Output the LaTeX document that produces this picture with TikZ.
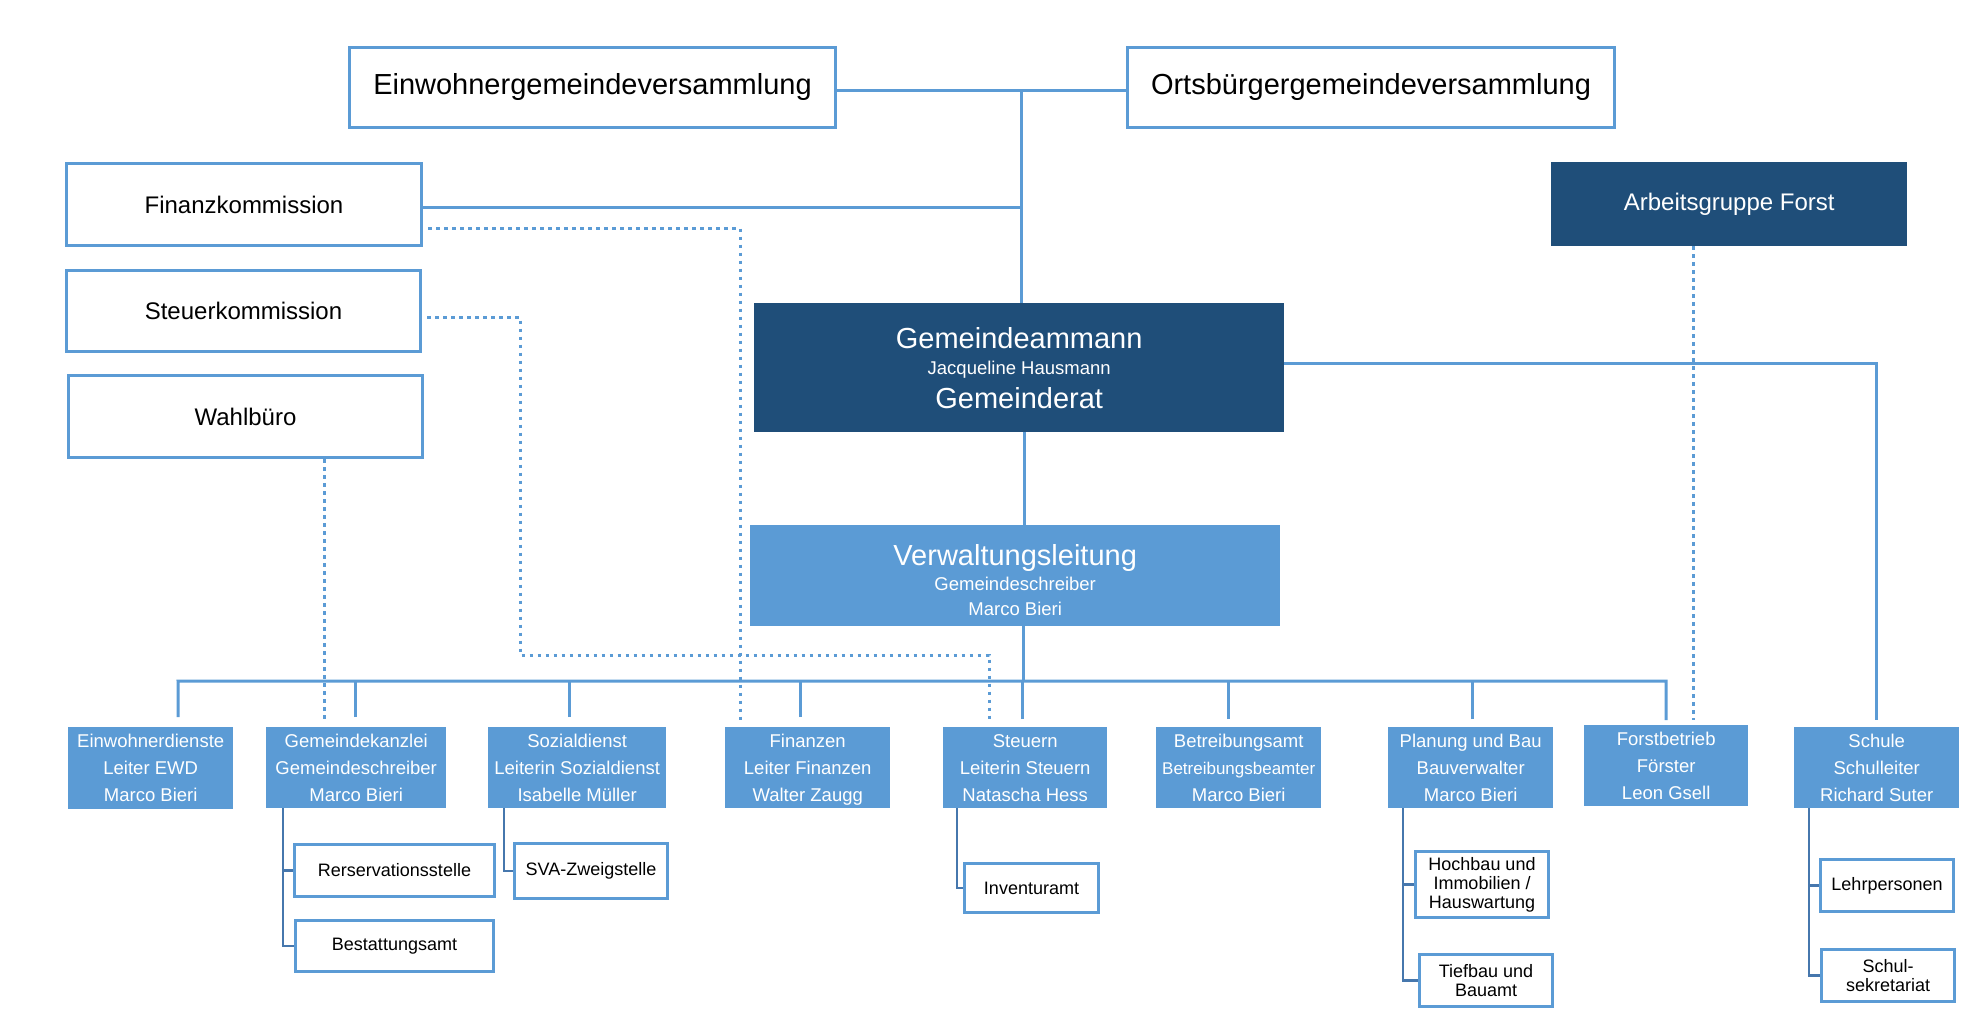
\documentclass[tikz,border=0pt]{standalone}
\usepackage{fontspec}
\setmainfont{Liberation Sans}
\definecolor{midblue}{HTML}{5B9BD5}
\definecolor{darkblue}{HTML}{1F4E79}
\definecolor{subline}{HTML}{4677AD}
\tikzset{
  wbox/.style={draw=midblue, line width=3pt, fill=white, inner sep=2pt, align=center, text=black},
  dbox/.style={fill=darkblue, inner sep=2pt, align=center, text=white},
  mbox/.style={fill=midblue, inner sep=2pt, align=center, text=white},
  fbig/.style={font=\fontsize{29}{34}\selectfont},
  fmed/.style={font=\fontsize{24}{28}\selectfont},
  funit/.style={font=\fontsize{18.5}{27}\selectfont},
  fsub/.style={font=\fontsize{18}{19}\selectfont},
  conn/.style={draw=midblue, line width=3pt},
  subconn/.style={draw=subline, line width=2.5pt},
  dotconn/.style={draw=midblue, line width=3pt, dash pattern=on 3.5pt off 4.5pt},
}
\newcommand\obox[7]{\node[#1, anchor=north west, minimum width={#5-#3}, minimum height={#6-#4}] (#2) at (#3,#4) {#7};}
\newcommand\utop{\rule{0pt}{18pt}}
\newcommand\ubot{\rule[-5pt]{0pt}{5pt}}
\begin{document}
\begin{tikzpicture}[x=1pt,y=-1pt]
\useasboundingbox (0,0) rectangle (1975,1030);
% top level
\obox{wbox,fbig}{ewgv}{348}{46}{834}{126}{Einwohnergemeindeversammlung}
\obox{wbox,fbig}{obgv}{1126}{46}{1613}{126}{Ortsbürgergemeindeversammlung}
\obox{wbox,fmed}{fk}{65}{162}{420}{244}{Finanzkommission}
\obox{wbox,fmed}{sk}{65}{269}{419}{350}{Steuerkommission}
\obox{wbox,fmed}{wb}{67}{374}{421}{456}{Wahlbüro}
\obox{dbox,fmed}{ag}{1551}{162}{1907}{246}{Arbeitsgruppe Forst}
\obox{dbox,font=\fontsize{29}{26}\selectfont}{ga}{754}{303}{1284}{432}{Gemeindeammann\\{\fontsize{18.5}{26}\selectfont Jacqueline Hausmann}\\[8pt]Gemeinderat}
\obox{mbox,font=\fontsize{29}{25}\selectfont}{vl}{750}{525}{1280}{626}{\rule{0pt}{29.5pt}Verwaltungsleitung\\{\fontsize{18.5}{25}\selectfont Gemeindeschreiber}\\{\fontsize{18.5}{25}\selectfont Marco Bieri}}
% units
\obox{mbox,funit}{ewd}{68}{727}{233}{809}{\utop Einwohnerdienste\\Leiter EWD\\Marco Bieri\ubot}
\obox{mbox,funit}{gk}{266}{727}{446}{808}{\utop Gemeindekanzlei\\Gemeindeschreiber\\Marco Bieri\ubot}
\obox{mbox,funit}{soz}{488}{727}{666}{808}{\utop Sozialdienst\\Leiterin Sozialdienst\\Isabelle Müller\ubot}
\obox{mbox,funit}{fin}{725}{727}{890}{808}{\utop Finanzen\\Leiter Finanzen\\Walter Zaugg\ubot}
\obox{mbox,funit}{st}{943}{727}{1107}{808}{\utop Steuern\\Leiterin Steuern\\Natascha Hess\ubot}
\obox{mbox,funit}{betr}{1156}{727}{1321}{808}{\utop Betreibungsamt\\{\fontsize{17}{27}\selectfont Betreibungsbeamter}\\Marco Bieri\ubot}
\obox{mbox,funit}{plan}{1388}{727}{1553}{808}{\utop Planung und Bau\\Bauverwalter\\Marco Bieri\ubot}
\obox{mbox,funit}{fb}{1584}{725}{1748}{806}{\utop Forstbetrieb\\Förster\\Leon Gsell\ubot}
\obox{mbox,funit}{schule}{1794}{727}{1959}{808}{\utop Schule\\Schulleiter\\Richard Suter\ubot}
% sub units
\obox{wbox,fsub}{res}{293}{843}{493}{895}{Rerservationsstelle}
\obox{wbox,fsub}{best}{294}{919}{492}{970}{Bestattungsamt}
\obox{wbox,fsub}{sva}{513}{842}{666}{897}{SVA-Zweigstelle}
\obox{wbox,fsub}{inv}{963}{862}{1097}{911}{Inventuramt}
\obox{wbox,fsub}{hoch}{1414}{850}{1547}{916}{Hochbau und\\Immobilien /\\Hauswartung}
\obox{wbox,fsub}{tief}{1418}{953}{1551}{1005}{Tiefbau und\\Bauamt}
\obox{wbox,fsub}{lehr}{1819}{858}{1952}{910}{Lehrpersonen}
\obox{wbox,fsub}{sek}{1820}{948}{1953}{1000}{Schul-\\sekretariat}
% junction coordinates
\coordinate (top) at (1021,91);
\coordinate (fkj) at (1021,207);
\coordinate (bus) at (178,681);
\coordinate (busr) at (1666,681);
\coordinate (skb) at (520,655);
% solid connectors
\draw[conn] (ewgv.east |- top) -- (obgv.west |- top);
\draw[conn] (top) -- (top |- ga.north);
\draw[conn] (fk.east |- fkj) -- (fkj);
\draw[conn] ([xshift=5pt]ga.south) -- ([xshift=5pt]ga.south |- vl.north);
\draw[conn] ([yshift=4.5pt]ga.east) -| ([yshift=7pt]schule.north);
\draw[conn] ([xshift=8pt]vl.south) -- ([xshift=8pt]vl.south |- bus);
\draw[conn] ([xshift=27.5pt,yshift=10pt]ewd.north) -- (bus) -- (busr) -- ([yshift=5pt]fb.north);
\draw[conn] ([xshift=-1pt,yshift=10pt]gk.north) -- ([xshift=-1pt]gk.north |- bus);
\draw[conn] ([xshift=-8pt,yshift=10pt]soz.north) -- ([xshift=-8pt]soz.north |- bus);
\draw[conn] ([xshift=-7.5pt,yshift=10pt]fin.north) -- ([xshift=-7.5pt]fin.north |- bus);
\draw[conn] ([xshift=-3pt,yshift=8pt]st.north) -- ([xshift=-3pt]st.north |- bus);
\draw[conn] ([xshift=-10pt,yshift=8pt]betr.north) -- ([xshift=-10pt]betr.north |- bus);
\draw[conn] ([xshift=1.5pt,yshift=8pt]plan.north) -- ([xshift=1.5pt]plan.north |- bus);
% sub connectors
\draw[subconn] ([xshift=17pt]gk.south west) |- (res.west);
\draw[subconn] ([xshift=17pt]gk.south west) |- (best.west);
\draw[subconn] ([xshift=16pt]soz.south west) |- (sva.west);
\draw[subconn] ([xshift=14pt]st.south west) |- (inv.west);
\draw[subconn] ([xshift=15pt]plan.south west) |- (hoch.west);
\draw[subconn] ([xshift=15pt]plan.south west) |- (tief.west);
\draw[subconn] ([xshift=15pt]schule.south west) |- (lehr.west);
\draw[subconn] ([xshift=15pt]schule.south west) |- (sek.west);
% dotted connectors
\draw[dotconn] ([xshift=5pt,yshift=-24pt]fk.east) -| ([xshift=15pt,yshift=4pt]fin.north west);
\draw[dotconn] ([xshift=5pt,yshift=-6.5pt]sk.east) -| (skb) -| ([xshift=46pt,yshift=4pt]st.north west);
\draw[dotconn] ([xshift=257pt]wb.south west) -- ([xshift=58pt,yshift=4pt]gk.north west);
\draw[dotconn] ([xshift=142pt]ag.south west) -- ([xshift=109pt,yshift=5pt]fb.north west);
\end{tikzpicture}
\end{document}
